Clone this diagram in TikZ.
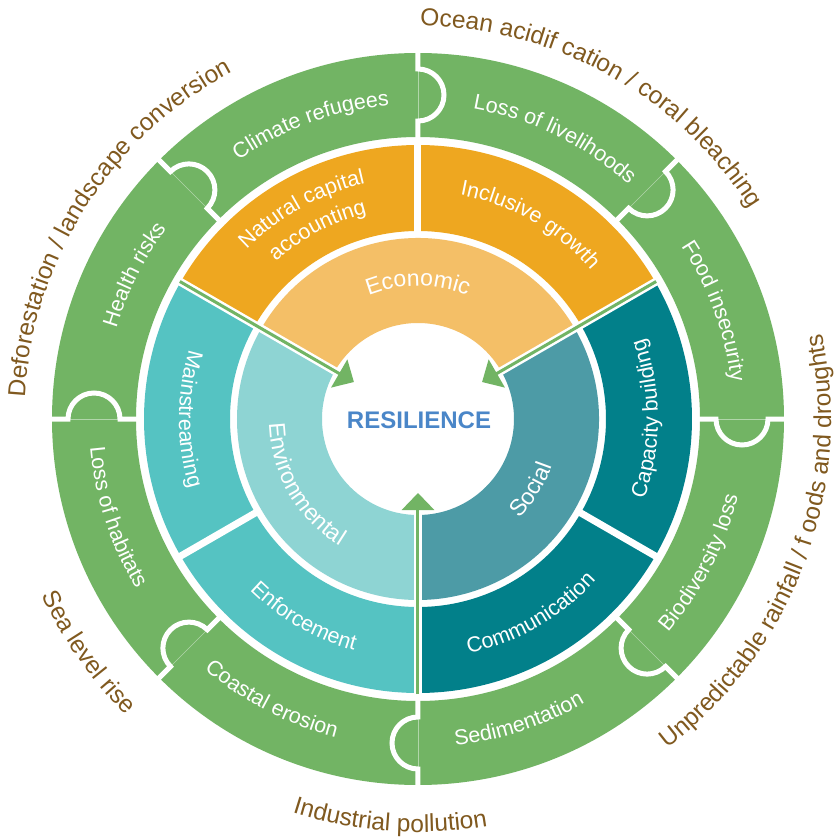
\documentclass[tikz,border=0pt]{standalone}
\usepackage{fontspec}
\setmainfont{Liberation Sans}
\usetikzlibrary{arrows.meta,decorations.text}
\definecolor{leafgreen}{HTML}{72B464}
\definecolor{amber}{HTML}{EEA720}
\definecolor{lightamber}{HTML}{F4BF67}
\definecolor{aqua}{HTML}{55C3C2}
\definecolor{lightaqua}{HTML}{8ED4D3}
\definecolor{seateal}{HTML}{4D9BA6}
\definecolor{deepteal}{HTML}{02808A}
\definecolor{earth}{HTML}{80591F}
\definecolor{resblue}{HTML}{4A86C8}
\newcommand{\ringfont}{\fontsize{21.5}{26}\selectfont}
\newcommand{\corefont}{\fontsize{23}{27}\selectfont}
\newcommand{\rimfont}{\fontsize{24.5}{29}\selectfont}
\newcommand{\ringpart}[5]{\fill[#1] (#2:#4) arc[start angle=#2,end angle=#3,radius=#4] -- (#3:#5) arc[start angle=#3,end angle=#2,radius=#5] -- cycle;}
\newcommand{\knob}[1]{\begin{scope}[rotate=#1]
  \draw[seam] (298,0) -- (350,0);
  \draw[gapline] (279,0) -- (298,0) arc[start angle=180,end angle=360,radius=26] -- (369,0);
\end{scope}}
\tikzset{
  ringtext/.style={decorate,decoration={text along path,text align=center,text color=white,text={#1}}},
  rimtext/.style={decorate,decoration={text along path,text align=center,text color=earth,text={#1}}},
  gapline/.style={white,line width=5},
  seam/.style={leafgreen!55!white,line width=0.7},
  slit/.style={white,line width=7},
  arr/.style={leafgreen,line width=3,-{Triangle[width=32pt,length=17pt]}}
}
\begin{document}
\begin{tikzpicture}[x=1pt,y=1pt]
  \useasboundingbox (-418,-419) rectangle (419,419);
  \fill[white] (-418,-419) rectangle (419,419);
  \fill[leafgreen,even odd rule] (0,0) circle (366) (0,0) circle (282);
  \knob{90} \knob{45} \knob{0} \knob{-45} \knob{-90} \knob{-135} \knob{180} \knob{135}
  \ringpart{amber}{30}{90}{188}{274}
  \ringpart{amber}{90}{150}{188}{274}
  \ringpart{aqua}{150}{210}{188}{274}
  \ringpart{aqua}{210}{270}{188}{274}
  \ringpart{deepteal}{270}{330}{188}{274}
  \ringpart{deepteal}{-30}{30}{188}{274}
  \ringpart{lightamber}{30}{150}{96}{181}
  \ringpart{lightaqua}{150}{270}{96}{181}
  \ringpart{seateal}{-90}{30}{96}{181}
  \draw[slit] (90:184) -- (90:278);
  \draw[slit] (-30:184) -- (-30:278);
  \draw[slit] (-150:184) -- (-150:278);
  \draw[slit,line width=8] (150:92) -- (150:278);
  \draw[slit,line width=8] (30:92) -- (30:278);
  \draw[slit,line width=8] (-90:92) -- (-90:278);
  \coordinate (envtail) at (150:275);
  \coordinate (envtip) at (150:74);
  \coordinate (soctail) at (30:275);
  \coordinate (soctip) at (30:74);
  \coordinate (ecotail) at (-90:275);
  \coordinate (ecotip) at (-90:74);
  \draw[arr] (envtail) -- (envtip);
  \draw[arr] (soctail) -- (soctip);
  \draw[arr] (ecotail) -- (ecotip);
  \node[font=\bfseries\fontsize{24}{28}\selectfont,text=resblue] (core) at (1,-1) {RESILIENCE};
  \path[ringtext={|\corefont|Economic}] (150:133) arc[start angle=150,end angle=30,radius=133];
  \path[ringtext={|\corefont|Environmental}] (150:149) arc[start angle=150,end angle=270,radius=149];
  \path[ringtext={|\corefont|Social}] (-92:142) arc[start angle=-92,end angle=28,radius=142];
  \path[ringtext={|\ringfont|Natural capital}] (179:241) arc[start angle=179,end angle=59,radius=241];
  \path[ringtext={|\ringfont|accounting}] (178:212) arc[start angle=178,end angle=58,radius=212];
  \path[ringtext={|\ringfont|Inclusive growth}] (120:228) arc[start angle=120,end angle=0,radius=228];
  \path[ringtext={|\ringfont|Capacity building}] (-60:240) arc[start angle=-60,end angle=60,radius=240];
  \path[ringtext={|\ringfont|Communication}] (-120:240) arc[start angle=-120,end angle=0,radius=240];
  \path[ringtext={|\ringfont|Enforcement}] (-180:240) arc[start angle=-180,end angle=-60,radius=240];
  \path[ringtext={|\ringfont|Mainstreaming}] (120:239) arc[start angle=120,end angle=240,radius=239];
  \path[ringtext={|\ringfont|Climate refugees}] (170:315) arc[start angle=170,end angle=50,radius=315];
  \path[ringtext={|\ringfont|Loss of livelihoods}] (124:315) arc[start angle=124,end angle=4,radius=315];
  \path[ringtext={|\ringfont|Food insecurity}] (80:315) arc[start angle=80,end angle=-40,radius=315];
  \path[ringtext={|\ringfont|Biodiversity loss}] (-87:329) arc[start angle=-87,end angle=33,radius=329];
  \path[ringtext={|\ringfont|Sedimentation}] (-131.5:329) arc[start angle=-131.5,end angle=-11.5,radius=329];
  \path[ringtext={|\ringfont|Coastal erosion}] (-177.5:329) arc[start angle=-177.5,end angle=-57.5,radius=329];
  \path[ringtext={|\ringfont|Loss of habitats}] (138:329) arc[start angle=138,end angle=258,radius=329];
  \path[ringtext={|\ringfont|Health risks}] (213:315) arc[start angle=213,end angle=93,radius=315];
  \path[rimtext={|\rimfont|Ocean acidif cation / coral bleaching}] (121:393) arc[start angle=121,end angle=1,radius=393];
  \path[rimtext={|\rimfont|Deforestation / landscape conversion}] (207.5:393.5) arc[start angle=207.5,end angle=87.5,radius=393.5];
  \path[rimtext={|\rimfont|Unpredictable rainfall / f oods and droughts}] (-80.5:413) arc[start angle=-80.5,end angle=39.5,radius=413];
  \path[rimtext={|\rimfont|Sea level rise}] (155.3:415.5) arc[start angle=155.3,end angle=275.3,radius=415.5];
  \path[rimtext={|\rimfont|Industrial pollution}] (-154:413) arc[start angle=-154,end angle=-34,radius=413];
\end{tikzpicture}
\end{document}
